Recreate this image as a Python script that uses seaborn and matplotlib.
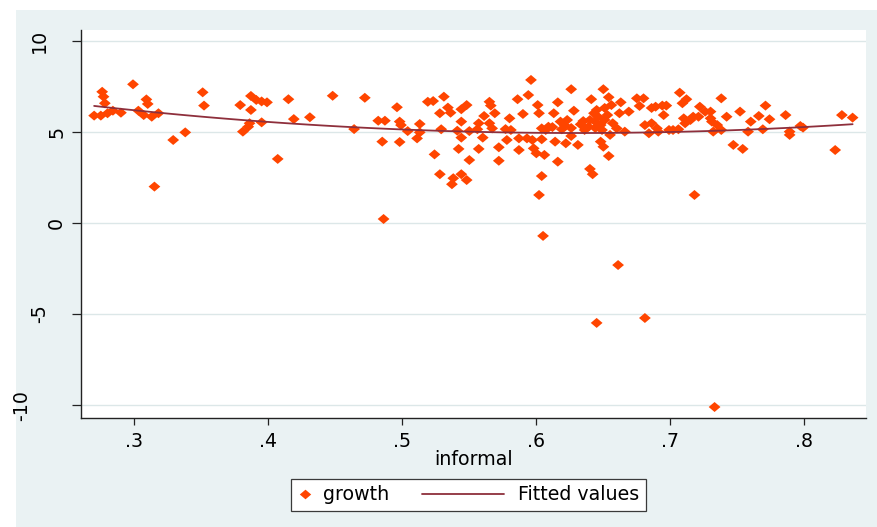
import numpy as np
import pandas as pd
import matplotlib
matplotlib.use("Agg")
import matplotlib.pyplot as plt
import seaborn as sns
from matplotlib.path import Path
from matplotlib.markers import MarkerStyle
from matplotlib.patches import Rectangle
from matplotlib.lines import Line2D
from matplotlib.legend_handler import HandlerLine2D
from matplotlib.transforms import ScaledTranslation

# ---- data -------------------------------------------------------------
informal = [
    0.270, 0.275, 0.276, 0.277, 0.278, 0.280, 0.284, 0.290, 0.299, 0.303,
    0.307, 0.309, 0.310, 0.313, 0.318, 0.315, 0.329, 0.338, 0.351, 0.352,
    0.379, 0.387, 0.387, 0.391, 0.395, 0.399, 0.381, 0.385, 0.386, 0.395,
    0.407, 0.415, 0.419, 0.431, 0.448, 0.464, 0.472, 0.482, 0.487, 0.485,
    0.486, 0.496, 0.498, 0.498, 0.499, 0.504, 0.513, 0.511, 0.513, 0.519,
    0.523, 0.531, 0.528, 0.534, 0.536, 0.529, 0.524, 0.528, 0.538, 0.537,
    0.544, 0.548, 0.542, 0.544, 0.544, 0.541, 0.544, 0.548, 0.550, 0.550,
    0.557, 0.556, 0.560, 0.557, 0.561, 0.565, 0.566, 0.569, 0.565, 0.567,
    0.572, 0.572, 0.577, 0.580, 0.581, 0.578, 0.586, 0.590, 0.587, 0.587,
    0.593, 0.594, 0.596, 0.601, 0.602, 0.597, 0.598, 0.600, 0.604, 0.602,
    0.604, 0.604, 0.606, 0.609, 0.613, 0.616, 0.614, 0.616, 0.618, 0.619,
    0.621, 0.623, 0.622, 0.626, 0.628, 0.626, 0.631, 0.633, 0.639, 0.640,
    0.642, 0.641, 0.643, 0.645, 0.644, 0.646, 0.648, 0.649, 0.650, 0.651,
    0.648, 0.650, 0.654, 0.654, 0.656, 0.657, 0.660, 0.655, 0.663, 0.662,
    0.666, 0.669, 0.675, 0.677, 0.680, 0.681, 0.684, 0.640, 0.636, 0.651,
    0.644, 0.653, 0.635, 0.612, 0.626, 0.607, 0.689, 0.694, 0.697, 0.695,
    0.686, 0.690, 0.691, 0.702, 0.706, 0.707, 0.709, 0.712, 0.710, 0.711,
    0.715, 0.717, 0.721, 0.722, 0.726, 0.730, 0.730, 0.731, 0.732, 0.735,
    0.738, 0.738, 0.742, 0.747, 0.752, 0.754, 0.758, 0.760, 0.766, 0.771,
    0.769, 0.774, 0.786, 0.789, 0.789, 0.797, 0.799, 0.823, 0.828, 0.836,
    0.718, 0.605, 0.661, 0.645, 0.681, 0.733, 0.686, 0.699,
]
growth = [
    5.90, 5.90, 7.21, 6.94, 6.58, 6.03, 6.17, 6.06, 7.62, 6.17,
    5.93, 6.79, 6.54, 5.84, 6.03, 2.00, 4.56, 4.98, 7.18, 6.45,
    6.48, 6.98, 6.21, 6.76, 6.68, 6.63, 5.02, 5.29, 5.48, 5.53,
    3.52, 6.80, 5.71, 5.81, 6.99, 5.16, 6.88, 5.62, 5.62, 4.47,
    0.22, 6.36, 5.57, 4.45, 5.38, 5.05, 5.44, 4.65, 4.98, 6.66,
    6.70, 6.94, 6.03, 6.34, 6.06, 5.15, 3.77, 2.68, 2.46, 2.13,
    2.68, 2.36, 4.07, 4.69, 5.57, 5.07, 6.25, 6.48, 5.05, 3.46,
    5.48, 5.15, 4.69, 4.07, 5.88, 6.66, 6.45, 6.03, 5.48, 5.20,
    3.42, 4.16, 5.16, 5.75, 5.11, 4.56, 6.80, 5.99, 4.65, 4.01,
    4.65, 7.03, 7.86, 6.48, 6.03, 4.56, 4.10, 3.83, 2.58, 1.54,
    5.20, 4.60, 3.74, 5.29, 6.03, 6.63, 4.47, 3.37, 5.57, 5.15,
    5.38, 5.66, 4.38, 7.35, 6.17, 4.78, 4.29, 5.42, 5.29, 2.97,
    2.68, 6.80, 6.03, 6.21, 5.57, 5.84, 5.38, 5.11, 7.35, 5.66,
    4.47, 4.19, 3.68, 6.91, 6.48, 5.48, 5.20, 4.84, 6.63, 6.03,
    5.02, 6.12, 6.85, 6.43, 6.85, 5.38, 4.93, 5.66, 5.11, 6.32,
    5.22, 5.93, 5.60, 5.27, 5.22, 5.11, 6.39, 6.45, 6.45, 5.93,
    5.48, 5.20, 5.02, 5.11, 5.15, 7.16, 6.58, 6.80, 5.75, 5.48,
    5.66, 5.84, 5.84, 6.39, 6.12, 6.12, 5.75, 5.57, 5.02, 5.38,
    5.11, 6.85, 5.84, 4.29, 6.12, 4.07, 5.02, 5.57, 5.88, 6.45,
    5.15, 5.70, 5.93, 5.02, 4.84, 5.33, 5.24, 4.01, 5.93, 5.79,
    1.54, -0.71, -2.31, -5.49, -5.22, -10.11, 6.32, 5.11,
]

x_ticks = [0.3, 0.4, 0.5, 0.6, 0.7, 0.8]
x_tick_labels = [".3", ".4", ".5", ".6", ".7", ".8"]
y_ticks = [-10, -5, 0, 5, 10]
y_tick_labels = ["-10", "-5", "0", "5", "10"]

df = pd.DataFrame({"informal": informal, "growth": growth})

# ---- style ------------------------------------------------------------
sns.set_theme(style="white")
plt.rcParams["font.family"] = ["DejaVu Sans"]
FS = 13.7
DOT = "#FF4500"
FIT = "#8E2F3C"
OUTER = "#EAF2F3"

W, H, DPI = 877, 527, 100
fig = plt.figure(figsize=(W / DPI, H / DPI), dpi=DPI, facecolor="white")

# graph region background, drawn beneath the axes
fig.add_artist(Rectangle((16 / W, 0), 1 - 16 / W, 1 - 10 / H,
                         transform=fig.transFigure, facecolor=OUTER,
                         edgecolor="none", zorder=-5))

ax = fig.add_axes([81 / W, 1 - 418 / H, (866 - 81) / W, (418 - 30) / H])
ax.set_zorder(1)
ax.set_facecolor("white")

# wide diamond marker
diamond = MarkerStyle(Path([(0, 1), (1.18, 0), (0, -1), (-1.18, 0), (0, 1)],
                           [Path.MOVETO, Path.LINETO, Path.LINETO,
                            Path.LINETO, Path.CLOSEPOLY]))

sns.scatterplot(data=df, x="informal", y="growth", marker=diamond, s=72,
                color=DOT, edgecolor="none", linewidth=0, legend=False,
                ax=ax, zorder=3)
sns.regplot(data=df, x="informal", y="growth", order=2, scatter=False,
            ci=None, truncate=True, color=FIT,
            line_kws={"lw": 1.3, "zorder": 4}, ax=ax)

# ---- axes -------------------------------------------------------------
ax.set_xlim(0.2602, 0.846)
ax.set_ylim(-10.714, 10.604)
ax.set_xticks(x_ticks, x_tick_labels)
ax.set_yticks(y_ticks, y_tick_labels)
ax.set_axisbelow(True)
ax.yaxis.grid(True, color="#DCE7E8", lw=1.0)
ax.xaxis.grid(False)

for side in ("top", "right"):
    ax.spines[side].set_visible(False)
for side in ("left", "bottom"):
    ax.spines[side].set_color("#222222")
    ax.spines[side].set_linewidth(1.0)

ax.tick_params(axis="y", direction="out", length=6.7, width=0.9,
               color="#222222", pad=4, labelsize=FS, labelcolor="black",
               labelrotation=90, left=True)
ax.tick_params(axis="x", direction="out", length=5.2, width=0.9,
               color="#222222", pad=5, labelsize=FS, labelcolor="black",
               bottom=True)

ax.set_ylabel("")
ax.set_xlabel("informal", fontsize=FS, color="black")
ax.xaxis.set_label_coords(0.5, -0.0825)
ax.xaxis.label.set_va("top")

# rotated y labels sit further out the longer they are
shift_px = {"10": -17.4, "5": 0.0, "0": 0.0, "-5": -16.7, "-10": -35.0}
for lab, txt in zip(ax.get_yticklabels(), y_tick_labels):
    lab.set_va("center")
    lab.set_transform(lab.get_transform() +
                      ScaledTranslation(shift_px[txt] / DPI, 0,
                                        fig.dpi_scale_trans))


# ---- legend -----------------------------------------------------------
class LongLine(HandlerLine2D):
    """Line key that reaches back past its slot toward the previous entry."""

    def get_xdata(self, legend, xdescent, ydescent, width, height, fontsize):
        xd = [-xdescent + width - 61.6, -xdescent + width - 2.5]
        return xd, xd


dot_key = Line2D([], [], marker=diamond, ls="none", color=DOT,
                 markeredgewidth=0, markersize=8.2)
fit_key = Line2D([], [], color=FIT, lw=1.3)

leg = fig.legend([dot_key, fit_key], ["growth", "Fitted values"],
                 loc="center left", bbox_to_anchor=(290.7 / W, 1 - 495 / H),
                 ncol=2, fontsize=FS, frameon=True, fancybox=False,
                 shadow=False, framealpha=1, borderpad=0.35,
                 handlelength=0.8, handletextpad=0.55, columnspacing=5.4,
                 borderaxespad=0, numpoints=1,
                 handler_map={fit_key: LongLine()})
leg.set_zorder(2)
leg.get_frame().set_edgecolor("#3A3A3A")
leg.get_frame().set_linewidth(0.9)
leg.get_frame().set_facecolor("white")
for t in leg.get_texts():
    t.set_color("black")

fig.savefig("out.png", dpi=DPI, facecolor=fig.get_facecolor())
